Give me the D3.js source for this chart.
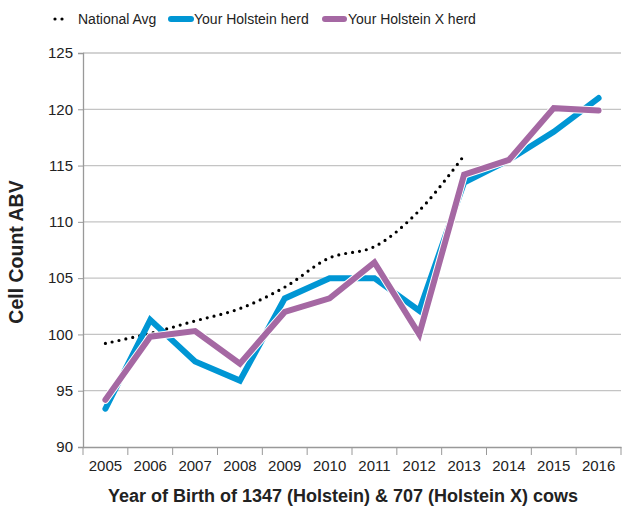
<!DOCTYPE html>
<html>
<head>
<meta charset="utf-8">
<script src="https://cdn.jsdelivr.net/npm/d3@7"></script>
<style>
  body { margin: 0; background: #fff; }
  text { font-family: "Liberation Sans", Arial, sans-serif; fill: #222; }
</style>
</head>
<body>
<div id="chart"></div>
<script>
// chart values
var years = ["2005", "2006", "2007", "2008", "2009", "2010", "2011", "2012", "2013", "2014", "2015", "2016"];
var nationalAvg = [99.2, 100.1, 101.2, 102.3, 104.2, 106.8, 107.8, 111.0, 115.9];
var holstein = [93.4, 101.3, 97.6, 95.9, 103.2, 105.0, 105.0, 102.1, 113.5, 115.5, 118.0, 121.0];
var holsteinX = [94.2, 99.8, 100.3, 97.4, 102.0, 103.2, 106.4, 100.0, 114.2, 115.5, 120.1, 119.9];
var yTicks = [90, 95, 100, 105, 110, 115, 120, 125];

var width = 622,
    height = 508;

var svg = d3.select("#chart")
    .append("svg")
    .attr("width", width)
    .attr("height", height);

// scales
var x = d3.scaleBand()
    .domain(years)
    .range([83, 621]);

var y = d3.scaleLinear()
    .domain([90, 125])
    .range([447, 53]);

// gridlines
svg.append("g")
    .selectAll("line")
    .data(yTicks.filter(function (d) { return d > 90; }))
    .enter().append("line")
    .attr("x1", 83)
    .attr("x2", 621)
    .attr("y1", function (d) { return y(d); })
    .attr("y2", function (d) { return y(d); })
    .attr("stroke", "#c4c4c4")
    .attr("stroke-width", 1.3);

// y axis
var yAxis = svg.append("g")
    .attr("transform", "translate(83,0)")
    .call(d3.axisLeft(y).tickValues(yTicks).tickSize(5).tickPadding(5));
yAxis.selectAll("text").style("font-size", "15px");

// x axis
var xAxis = svg.append("g")
    .attr("transform", "translate(0,447)")
    .call(d3.axisBottom(x).tickSize(0).tickPadding(13));
xAxis.selectAll("text").style("font-size", "15px");
xAxis.selectAll(".tick line").remove();
xAxis.append("g")
    .selectAll("line")
    .data(years.concat(["end"]))
    .enter().append("line")
    .attr("x1", function (d, i) { return 83 + i * x.step(); })
    .attr("x2", function (d, i) { return 83 + i * x.step(); })
    .attr("y1", 0)
    .attr("y2", 8)
    .attr("stroke", "#999");

svg.selectAll(".domain")
    .attr("stroke", "#999")
    .attr("stroke-width", 1.3);
svg.selectAll(".tick line").attr("stroke", "#999");

var cx = function (d, i) { return x(years[i]) + x.bandwidth() / 2; };

var line = d3.line()
    .x(cx)
    .y(function (d) { return y(d); });

var smooth = d3.line()
    .curve(d3.curveCatmullRom)
    .x(cx)
    .y(function (d) { return y(d); });

// national average, dotted
svg.append("path")
    .datum(nationalAvg)
    .attr("d", smooth)
    .attr("fill", "none")
    .attr("stroke", "#000")
    .attr("stroke-width", 3.2)
    .attr("stroke-linecap", "round")
    .attr("stroke-dasharray", "0,7");

// holstein
svg.append("path")
    .datum(holstein)
    .attr("d", line)
    .attr("fill", "none")
    .attr("stroke", "#0096d4")
    .attr("stroke-width", 6)
    .attr("stroke-linecap", "round");

// holstein x, with white outline
svg.append("path")
    .datum(holsteinX)
    .attr("d", line)
    .attr("fill", "none")
    .attr("stroke", "#fff")
    .attr("stroke-width", 8)
    .attr("stroke-linecap", "round");
svg.append("path")
    .datum(holsteinX)
    .attr("d", line)
    .attr("fill", "none")
    .attr("stroke", "#a568a3")
    .attr("stroke-width", 6)
    .attr("stroke-linecap", "round");

// legend
var legend = svg.append("g").attr("transform", "translate(0,19)");
legend.append("line")
    .attr("x1", 55).attr("x2", 69).attr("y1", 0).attr("y2", 0)
    .attr("stroke", "#000").attr("stroke-width", 3.2)
    .attr("stroke-linecap", "round").attr("stroke-dasharray", "0,7");
legend.append("text").attr("x", 78).attr("y", 5).style("font-size", "14px").text("National Avg");
legend.append("line")
    .attr("x1", 171).attr("x2", 191).attr("y1", 0).attr("y2", 0)
    .attr("stroke", "#0096d4").attr("stroke-width", 6).attr("stroke-linecap", "round");
legend.append("text").attr("x", 194).attr("y", 5).style("font-size", "14px").text("Your Holstein herd");
legend.append("line")
    .attr("x1", 325).attr("x2", 344).attr("y1", 0).attr("y2", 0)
    .attr("stroke", "#a568a3").attr("stroke-width", 6).attr("stroke-linecap", "round");
legend.append("text").attr("x", 348).attr("y", 5).style("font-size", "14px").text("Your Holstein X herd");

// axis titles
svg.append("text")
    .attr("x", 343)
    .attr("y", 502)
    .attr("text-anchor", "middle")
    .style("font-size", "18px")
    .style("font-weight", "bold")
    .text("Year of Birth of 1347 (Holstein) & 707 (Holstein X) cows");

svg.append("text")
    .attr("transform", "translate(23,252) rotate(-90)")
    .attr("text-anchor", "middle")
    .style("font-size", "19.5px")
    .style("font-weight", "bold")
    .text("Cell Count ABV");
</script>
</body>
</html>
